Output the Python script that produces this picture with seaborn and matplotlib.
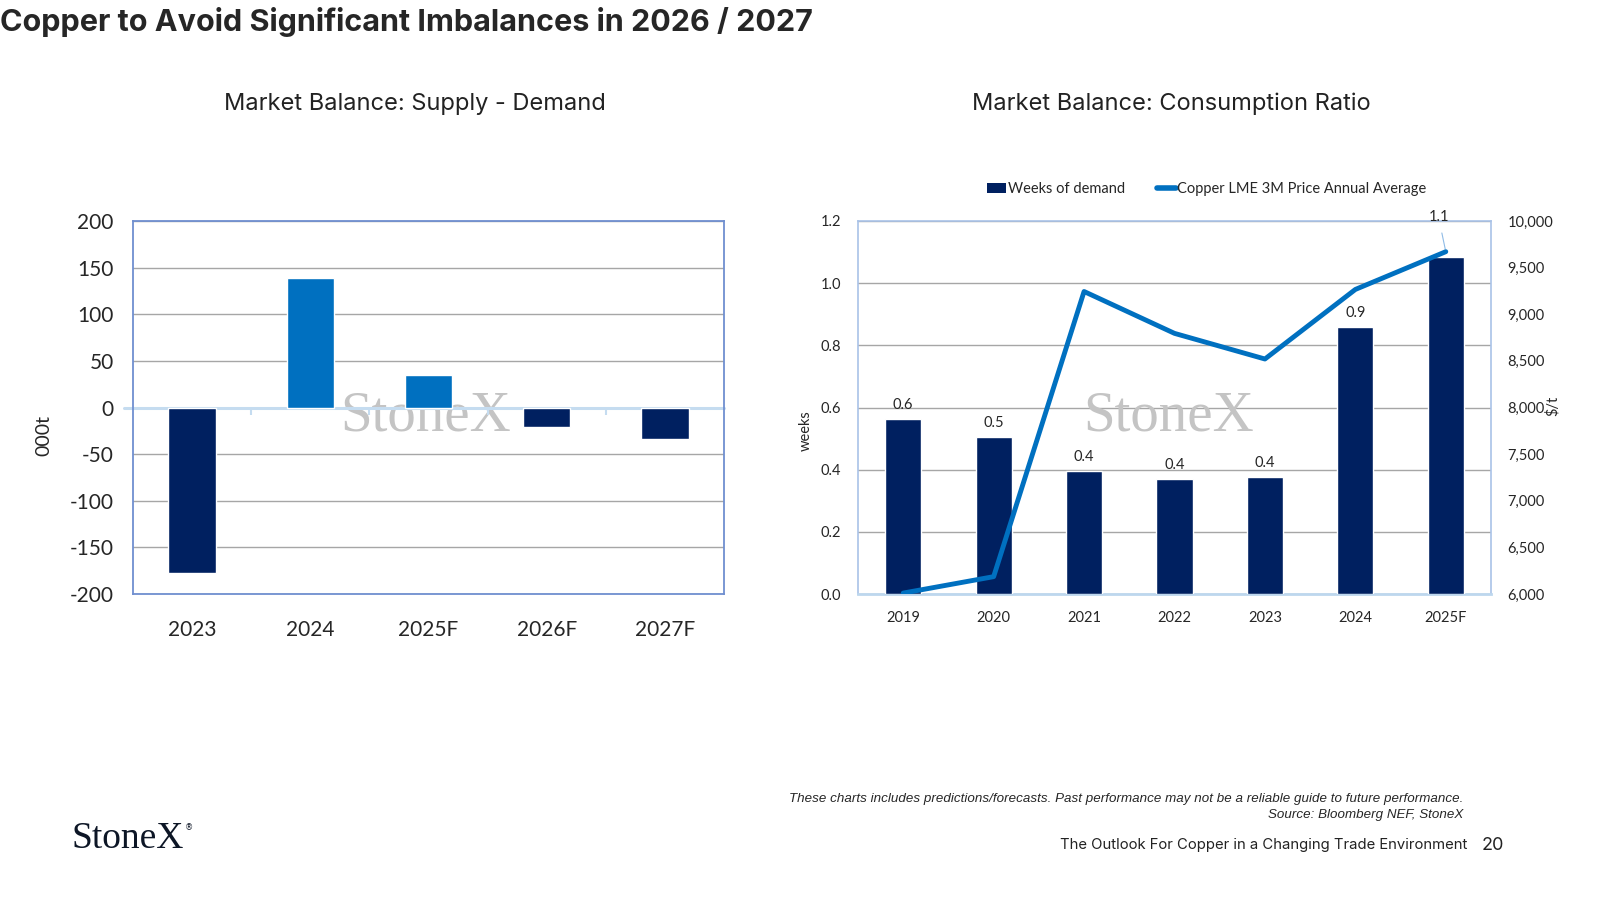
import numpy as np
import matplotlib.pyplot as plt
import seaborn as sns
from matplotlib.patches import Patch
from matplotlib.lines import Line2D

# left chart: supply - demand balance ('000t)
bal_years = ['2023', '2024', '2025F', '2026F', '2027F']
balance = [-177, 139, 35, -21, -34]

# right chart: weeks of demand + LME price
cr_years = ['2019', '2020', '2021', '2022', '2023', '2024', '2025F']
weeks = [0.562, 0.506, 0.395, 0.371, 0.375, 0.858, 1.085]
week_labels = ['0.6', '0.5', '0.4', '0.4', '0.4', '0.9', '1.1']
price = [6010, 6186, 9244, 8795, 8520, 9266, 9671]

navy = '#002060'
blue = '#0070C0'
grid_c = '#a6a6a6'

sns.set_style('white')
plt.rcParams['font.family'] = ['Lato', 'DejaVu Sans']
plt.rcParams['axes.unicode_minus'] = False

fig = plt.figure(figsize=(16, 9), dpi=100)

fig.text(0.0, 1 - 22 / 900, 'Copper to Avoid Significant Imbalances in 2026 / 2027',
         fontsize=22, fontweight='bold', family='Inter', va='center', ha='left')
fig.text(415 / 1600, 1 - 104 / 900, 'Market Balance: Supply - Demand',
         fontsize=17, family='Inter', va='center', ha='center', color='#222222')
fig.text(1171 / 1600, 1 - 104 / 900, 'Market Balance: Consumption Ratio',
         fontsize=17, family='Inter', va='center', ha='center', color='#222222')

# ---------- left chart ----------
ax = fig.add_axes([133 / 1600, 1 - 594 / 900, 591 / 1600, 373 / 900])
cols = [navy if v < 0 else blue for v in balance]
sns.barplot(x=bal_years, y=balance, hue=bal_years, palette=cols, legend=False,
            width=0.4, saturation=1, ax=ax, zorder=3)
ax.set_ylim(-200, 200)
ax.set_xlim(-0.5, 4.5)
ax.set_yticks(range(-200, 201, 50))
ax.yaxis.grid(True, color=grid_c, lw=1, zorder=0.5)
ax.set_axisbelow(True)
for s in ax.spines.values():
    s.set_color('#6f8fd0')
    s.set_linewidth(1.3)
ax.axhline(0, xmin=-0.015, color='#c5dcf0', lw=2.2, clip_on=False, zorder=2)
ax.vlines([0.5, 1.5, 2.5, 3.5], -8, 0, color='#c5dcf0', lw=1.5, zorder=2)
ax.tick_params(axis='y', labelsize=15, pad=14, length=0)
ax.tick_params(axis='x', labelsize=15, pad=19, length=0)
ax.set_xlabel('')
ax.set_ylabel('')
ax.text(0.495, 0.475, 'StoneX', transform=ax.transAxes, fontsize=41,
        family='Liberation Serif', color='#c4c4c4', ha='center', va='center', zorder=1)
fig.text(44 / 1600, 1 - 436 / 900, '000t', rotation=90, fontsize=14,
         ha='center', va='center')

# ---------- right chart ----------
ax1 = fig.add_axes([858 / 1600, 1 - 594 / 900, 633 / 1600, 373 / 900])
sns.barplot(x=cr_years, y=weeks, color=navy, width=0.4, saturation=1,
            ax=ax1, zorder=3)
ax1.set_ylim(0, 1.2)
ax1.set_xlim(-0.5, 6.5)
ax1.set_yticks(np.arange(0, 1.21, 0.2))
ax1.set_yticklabels([f'{v:.1f}' for v in np.arange(0, 1.21, 0.2)])
ax1.yaxis.grid(True, color=grid_c, lw=1, zorder=0.5)
ax1.set_axisbelow(True)
for s in ax1.spines.values():
    s.set_color('#a9c2e8')
    s.set_linewidth(1.2)
ax1.spines['bottom'].set_color('#bdd7ee')
ax1.spines['bottom'].set_linewidth(2)
ax1.set_xticks(np.arange(-0.5, 7, 1), minor=True)
ax1.tick_params(axis='x', which='minor', length=6, color='#d0e2f3', width=1, direction='out')
ax1.tick_params(axis='y', labelsize=10.5, pad=12, length=0)
ax1.tick_params(axis='x', which='major', labelsize=10.5, pad=12, length=0)
ax1.set_xlabel('')
ax1.set_ylabel('')
for i, (w, lab) in enumerate(zip(weeks, week_labels)):
    if i == len(weeks) - 1:
        continue
    ax1.annotate(lab, (i, w), xytext=(0, 5), textcoords='offset points',
                 ha='center', va='bottom', fontsize=10.5, zorder=5)
ax1.text(0.49, 0.475, 'StoneX', transform=ax1.transAxes, fontsize=41,
         family='Liberation Serif', color='#c4c4c4', ha='center', va='center', zorder=1)

ax2 = ax1.twinx()
sns.lineplot(x=np.arange(len(price)), y=price, color=blue, lw=3.5, ax=ax2,
             solid_capstyle='round', zorder=4)
ax2.set_ylim(6000, 10000)
ax2.set_yticks(range(6000, 10001, 500))
ax2.set_yticklabels([f'{v:,}' for v in range(6000, 10001, 500)])
ax2.tick_params(axis='y', labelsize=10.5, pad=12, length=0)
for s in ax2.spines.values():
    s.set_visible(False)
ax2.set_ylabel('')
# last label with leader line
ax2.annotate(week_labels[-1], xy=(6, price[-1]), xytext=(5.92, 10040),
             ha='center', va='center', fontsize=10.5, annotation_clip=False,
             arrowprops=dict(arrowstyle='-', color='#8fbbe6', lw=0.8,
                             shrinkA=4, shrinkB=2))

fig.text(806 / 1600, 1 - 431 / 900, 'weeks', rotation=90, fontsize=10.5,
         ha='center', va='center')
fig.text(1553 / 1600, 1 - 406 / 900, '$/t', rotation=90, fontsize=10.5,
         ha='center', va='center')

handles = [Patch(facecolor=navy, edgecolor='none'),
           Line2D([0], [0], color=blue, lw=4)]
fig.legend(handles, ['Weeks of demand', 'Copper LME 3M Price Annual Average'],
           loc='center', bbox_to_anchor=(1207 / 1600, 1 - 189 / 900), ncol=2,
           frameon=False, fontsize=10.5, handlelength=1.3, handletextpad=0.1,
           columnspacing=2.2)

# ---------- footer ----------
fig.text(1463 / 1600, 1 - 799 / 900,
         'These charts includes predictions/forecasts. Past performance may not be a reliable guide to future performance.',
         fontsize=9.6, style='italic', family='Liberation Sans', ha='right', va='center')
fig.text(1463 / 1600, 1 - 815 / 900, 'Source: Bloomberg NEF, StoneX',
         fontsize=9.6, style='italic', family='Liberation Sans', ha='right', va='center')
fig.text(1467 / 1600, 1 - 845 / 900, 'The Outlook For Copper in a Changing Trade Environment',
         fontsize=10.7, family='Inter', ha='right', va='center', color='#222222')
fig.text(1493 / 1600, 1 - 845 / 900, '20', fontsize=13, family='Inter',
         ha='center', va='center', color='#222222')
logo = fig.text(72 / 1600, 1 - 839 / 900, 'StoneX', fontsize=27, family='Liberation Serif',
                ha='left', va='center', color='#0d1626')
fig.canvas.draw()
bb = logo.get_window_extent()
fig.text((bb.x1 + 1) / 1600, 1 - 828 / 900, '®', fontsize=6, family='DejaVu Sans',
         ha='left', va='center', color='#0d1626')

fig.savefig('out.png', dpi=100)
